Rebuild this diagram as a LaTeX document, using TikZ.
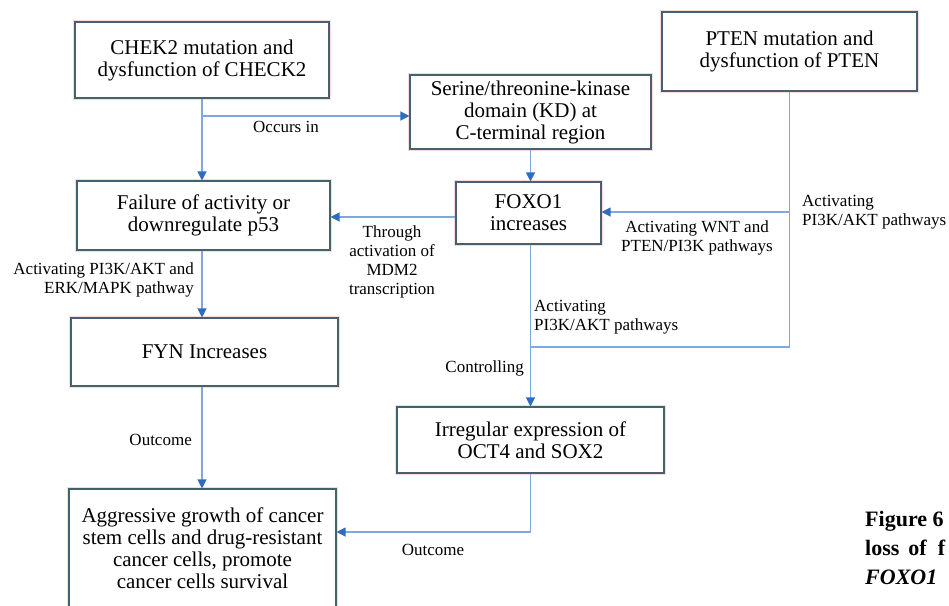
\documentclass[tikz,border=0pt]{standalone}
\usepackage{fontspec}
\setmainfont{Liberation Serif}
\newfontfamily\boxfont{Liberation Serif}
\usetikzlibrary{arrows.meta,backgrounds}
\definecolor{boxline}{HTML}{46606E}
\definecolor{boxhalo}{HTML}{F6DCD6}
\definecolor{linkblue}{HTML}{7FA8DC}
\definecolor{tipblue}{HTML}{2F6CC0}
\tikzset{
  box/.style={draw=boxline,line width=1.1pt,align=center,inner sep=0pt,
    font=\boxfont\fontsize{21}{22}\selectfont},
  lab/.style={inner sep=0pt,font=\boxfont\fontsize{17}{19}\selectfont},
  link/.style={draw=linkblue,line width=1.2pt},
  arr/.style={link,-{Triangle[length=9pt,width=9pt,color=tipblue]}}
}
\begin{document}
\begin{tikzpicture}[x=1pt,y=-1pt]
\clip (0,0) rectangle (949,605);

% boxes
\node[box,minimum width=254pt,minimum height=76pt] (chek) at (202,60) {CHEK2 mutation and\\dysfunction of CHECK2};
\node[box,minimum width=241pt,minimum height=74pt] (serine) at (530.5,112) {Serine/threonine-kinase\\domain (KD) at\\C-terminal region};
\node[box,minimum width=255pt,minimum height=79pt] (pten) at (789.5,51.5) {PTEN mutation and\\dysfunction of PTEN};
\node[box,minimum width=253pt,minimum height=69pt] (fail) at (203.5,215.5) {Failure of activity or\\downregulate p53};
\node[box,minimum width=145pt,minimum height=62pt] (foxo) at (528.5,213) {FOXO1\\increases};
\node[box,minimum width=267pt,minimum height=68pt] (fyn) at (204.5,352) {FYN Increases};
\node[box,minimum width=267pt,minimum height=66pt] (irr) at (530.5,440) {Irregular expression of\\OCT4 and SOX2};
\node[box,minimum width=267pt,minimum height=118pt] (agg) at (202.5,548) {Aggressive growth of cancer\\stem cells and drug-resistant\\cancer cells, promote\\cancer cells survival};

% faint halo round the boxes
\begin{scope}[on background layer]
\fill[white] (0,0) rectangle (949,605);
\foreach \n in {chek,serine,pten,fail,foxo,fyn,irr,agg}
  \draw[boxhalo,line width=3.2pt] (\n.south west) rectangle (\n.north east);
\end{scope}

% left column
\draw[arr] (chek.south) -- (chek.south |- fail.north);
\coordinate (occ) at (chek.south |- 0,116);
\draw[arr] (occ) -- (occ -| serine.west);
\draw[arr] (chek.south |- fail.south) -- (chek.south |- fyn.north);
\draw[arr] (chek.south |- fyn.south) -- (chek.south |- agg.north);

% middle column
\draw[arr] (serine.south) -- (serine.south |- foxo.north);
\coordinate (mdm) at (foxo.west |- 0,217);
\draw[arr] (mdm) -- (mdm -| fail.east);
\draw[arr] (serine.south |- foxo.south) -- (serine.south |- irr.north);
\coordinate (outc) at (serine.south |- 0,532);
\draw[link] (serine.south |- irr.south) -- (outc);
\draw[arr] (outc) -- (outc -| agg.east);

% PTEN branch
\coordinate (ptdown) at (pten.south |- 0,347);
\draw[link] (pten.south) -- (ptdown) -- (ptdown -| serine.south);
\coordinate (wnt) at (pten.south |- 0,212);
\draw[arr] (wnt) -- (wnt -| foxo.east);

% labels
\node[lab,anchor=west] (occlab) at (253,127) {Occurs in};
\node[lab,align=center] (mdmlab) at (392,262) {Through\\activation of\\MDM2\\transcription};
\node[lab,align=center] (wntlab) at (697,238) {Activating WNT and\\PTEN/PI3K pathways};
\node[lab,align=left,anchor=west] (ptenlab) at (802,212) {Activating\\PI3K/AKT pathways};
\node[lab,align=left,anchor=west] (foxolab) at (534,317) {Activating\\PI3K/AKT pathways};
\node[lab,anchor=east] (ctrllab) at (524,368) {Controlling};
\node[lab,align=right,anchor=east] (faillab) at (194,280) {Activating PI3K/AKT and\\ERK/MAPK pathway};
\node[lab,anchor=east] (fynlab) at (192,440) {Outcome};
\node[lab] (outlab) at (433,550) {Outcome};

% caption fragment
\node[anchor=north west,inner sep=0pt,align=left,font=\boxfont\fontsize{22}{29}\selectfont\bfseries] (cap) at (865,511)
  {Figure 6\\loss\hspace{9pt}of\hspace{11pt}f\\\textit{FOXO1}};
\end{tikzpicture}
\end{document}
